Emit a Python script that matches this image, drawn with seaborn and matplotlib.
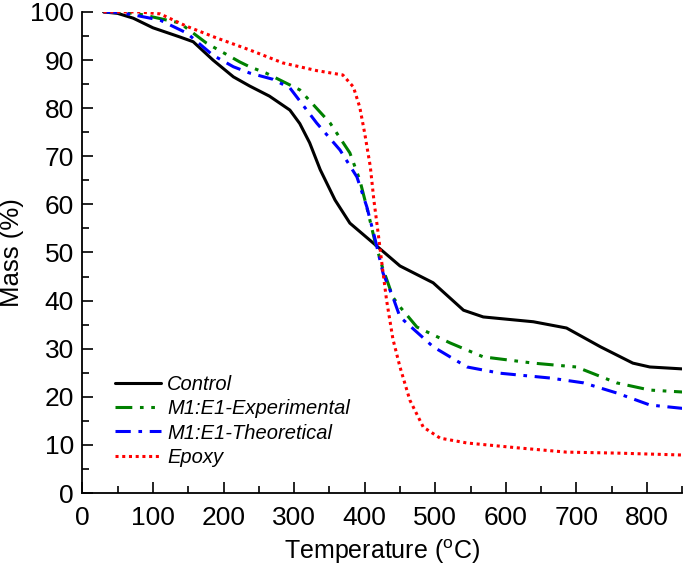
import numpy as np
import pandas as pd
import seaborn as sns
import matplotlib
matplotlib.use("Agg")
from matplotlib import pyplot as plt
from matplotlib.ticker import MultipleLocator

# values
control_t = [30, 50, 72, 100, 138, 157, 185, 214, 237, 265, 294, 308, 322, 337,
             358, 379, 415, 450, 497, 540, 568, 639, 686, 734, 780, 804, 850]
control_m = [100, 99.7, 98.7, 96.7, 94.8, 93.8, 90, 86.5, 84.6, 82.5, 79.6, 76.8,
             72.8, 67.2, 60.9, 56.1, 51.6, 47.2, 43.7, 38.0, 36.6, 35.6, 34.3,
             30.4, 27.0, 26.2, 25.8]

exp_t = [30, 60, 86, 138, 176, 223, 237, 260, 308, 351, 379, 393, 405, 415, 425,
         440, 450, 474, 521, 568, 639, 700, 757, 804, 850]
exp_m = [100, 99.9, 99.4, 97.7, 93.5, 89.6, 88.6, 87.3, 83.8, 76.9, 70.7, 65.1,
         58.2, 52.0, 47.0, 40.7, 38.7, 34.5, 31.2, 28.3, 27.0, 26.2, 22.9, 21.4,
         21.0]

theo_t = [30, 50, 72, 110, 148, 185, 214, 237, 270, 294, 332, 365, 389, 403, 415,
          426, 440, 450, 497, 545, 592, 663, 710, 757, 804, 850]
theo_m = [100, 99.9, 99.4, 98.3, 95.6, 91, 88.6, 87.3, 86, 84.2, 76.9, 71.3, 65.7,
          59.5, 52.6, 45.7, 40.7, 36.6, 30.4, 26.2, 24.9, 23.9, 22.9, 20.8, 18.3,
          17.6]

epoxy_t = [30, 80, 110, 148, 190, 237, 284, 332, 369, 384, 393, 400, 408, 413,
           419, 425, 431, 440, 450, 464, 483, 507, 545, 616, 686, 757, 850]
epoxy_m = [100, 100, 99.6, 97, 94.6, 92.1, 89.4, 87.8, 86.9, 84.4, 80.2, 74.8,
           67.8, 60.9, 54.1, 47.0, 40.1, 32, 26.2, 19.3, 13.7, 11.4, 10.4, 9.4,
           8.5, 8.3, 7.9]

labels = ["Control", "M1:E1-Experimental", "M1:E1-Theoretical", "Epoxy"]

sns.set_style("ticks", {"axes.edgecolor": "black", "text.color": "black",
                        "axes.labelcolor": "black", "xtick.color": "black",
                        "ytick.color": "black"})
plt.rcParams["font.family"] = ["Liberation Sans", "DejaVu Sans"]
plt.rcParams["mathtext.fontset"] = "custom"
plt.rcParams["mathtext.rm"] = "Liberation Sans"

fig = plt.figure(figsize=(6.85, 5.68), dpi=100)
ax = fig.add_axes([0.1203, 0.132, 0.8757, 0.847])

series = [
    (control_t, control_m, "black", "-"),
    (exp_t, exp_m, "green", (0, (5.5, 2.5, 1.2, 2.5, 1.2, 2.5))),
    (theo_t, theo_m, "blue", (0, (5, 2.5, 1.2, 2.5))),
    (epoxy_t, epoxy_m, "red", (0, (1, 1.2))),
]

for (t, m, c, ls), lab in zip(series, labels):
    df = pd.DataFrame({"T": t, "M": m})
    sns.lineplot(data=df, x="T", y="M", color=c, linestyle=ls, linewidth=2.2,
                 label=lab, ax=ax)

ax.set_xlim(0, 850)
ax.set_ylim(0, 100)
ax.xaxis.set_major_locator(MultipleLocator(100))
ax.xaxis.set_minor_locator(MultipleLocator(50))
ax.yaxis.set_major_locator(MultipleLocator(10))
ax.yaxis.set_minor_locator(MultipleLocator(5))
ax.tick_params(which="major", direction="in", length=8, width=1.2, labelsize=19,
               pad=6)
ax.tick_params(axis="x", which="major", pad=9)
ax.tick_params(which="minor", direction="in", length=5, width=1.2)
for s in ["top", "right"]:
    ax.spines[s].set_visible(False)
for s in ["left", "bottom"]:
    ax.spines[s].set_linewidth(1.3)

ax.set_xlabel(r"Temperature ($^{\mathregular{o}}$C)", fontsize=18, labelpad=6)
ax.set_ylabel("Mass (%)", fontsize=18.5, va="center")
ax.yaxis.set_label_coords(-0.117, 0.5)

leg = ax.legend(loc="lower left", bbox_to_anchor=(0.054, 0.055), frameon=False,
                fontsize=14.5, handlelength=2.3, handletextpad=0.3,
                labelspacing=0.25, borderpad=0, borderaxespad=0)
for txt in leg.get_texts():
    txt.set_fontstyle("italic")

fig.savefig("out.png", dpi=100)
